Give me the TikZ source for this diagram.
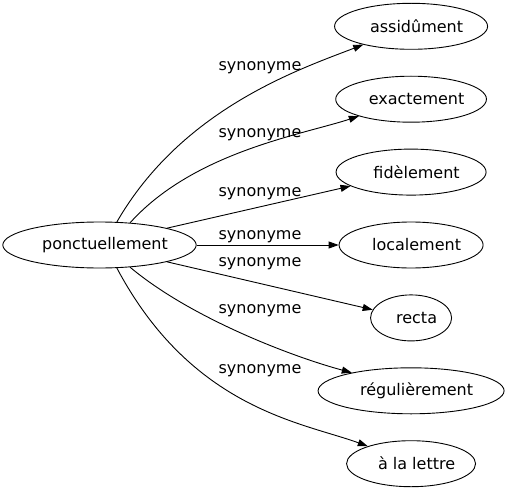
\documentclass[tikz,border=0pt]{standalone}
\usepackage{fontspec}
\setmainfont{DejaVu Sans}
\usetikzlibrary{arrows.meta, positioning, shapes.geometric}

\begin{document}
\begin{tikzpicture}[x=1pt, y=1pt, font=\fontsize{16}{19}\selectfont,
    syn/.style={draw, ellipse, inner sep=0pt, minimum height=46pt, line width=0.9pt,
      execute at begin node={\hspace*{11pt}}},
    lbl/.style={anchor=base, inner sep=0pt},
    arr/.style={-{Triangle[length=10pt, width=7pt]}, line width=0.9pt}]
    \useasboundingbox (0,0) rectangle (508,491);
    \node[syn, minimum width=189pt] (ponct) at (99.5,246) {ponctuellement};
    \node[syn, minimum width=144pt, right=142pt of ponct] (loc) {localement};
    \node[syn, minimum width=150pt, above=26pt of loc] (fid) {fidèlement};
    \node[syn, minimum width=148pt, above=26pt of fid] (exact) {exactement};
    \node[syn, minimum width=153pt, above=26pt of exact] (assi) {assidûment};
    \node[syn, minimum width=81pt, below=26pt of loc] (recta) {recta};
    \node[syn, minimum width=186pt, below=26pt of recta] (regul) {régulièrement};
    \node[syn, minimum width=129pt, below=26pt of regul] (lettre) {à la lettre};
    % labels
    \node[lbl] (s1) at (260,420.3) {synonyme};
    \node[lbl] (s2) at (260,353.7) {synonyme};
    \node[lbl] (s3) at (260,295) {synonyme};
    \node[lbl] (s4) at (260,251.7) {synonyme};
    \node[lbl] (s5) at (260,224.3) {synonyme};
    \node[lbl] (s6) at (260,177.7) {synonyme};
    \node[lbl] (s7) at (260,117.7) {synonyme};
    \draw[arr] (ponct.53) .. controls +(60:130) and +(201:70) .. (assi.201);
    \draw[arr] (ponct.36) .. controls +(48:95) and +(198:60) .. (exact.198);
    \draw[arr] (ponct.14) -- (fid.193);
    \draw[arr] (ponct) -- (loc);
    \draw[arr] (ponct.346) -- (recta.168);
    \draw[arr] (ponct.324) .. controls +(-40:80) and +(165:60) .. (regul.163);
    \draw[arr] (ponct.307) .. controls +(-62:160) and +(160:70) .. (lettre.158);
  \end{tikzpicture}
\end{document}
